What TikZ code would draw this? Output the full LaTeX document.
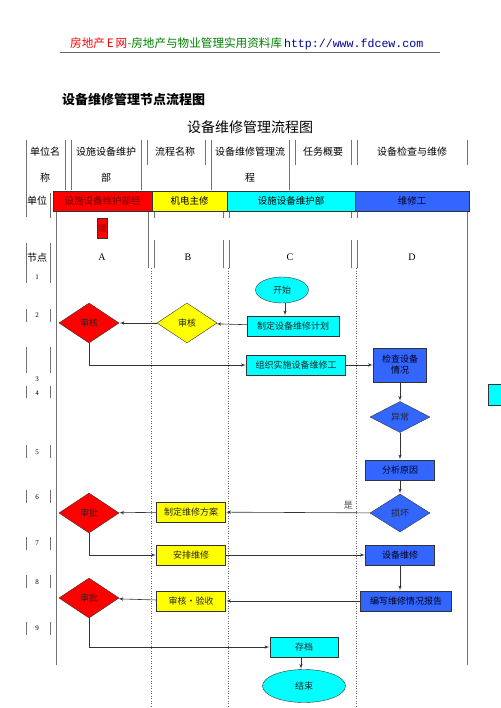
\documentclass[tikz,border=0pt]{standalone}
\usepackage{fontspec}
\setmainfont{Noto Sans CJK SC}
\newfontfamily\latinfont{Liberation Serif}
\newfontfamily\monofont{Liberation Mono}
\usepackage{tikz}
\usetikzlibrary{shapes}
\usetikzlibrary{arrows,positioning}
\definecolor{boxblue}{RGB}{51,102,255}
\definecolor{boxcyan}{RGB}{0,255,255}
\definecolor{boxyellow}{RGB}{255,255,0}
\definecolor{boxred}{RGB}{255,0,0}
\definecolor{webgreen}{RGB}{0,128,0}
\definecolor{webblue}{RGB}{0,0,160}

\begin{document}
\begin{tikzpicture}[x=1pt,y=-1pt,>=latex',thin]
  \tikzstyle{rule}=[draw=black!55,line width=0.7pt]
  \tikzstyle{lanesep}=[draw=black!60,dash pattern=on 1pt off 1.5pt]
  \tikzstyle{flow}=[->,draw=black!80,line width=0.6pt,shorten >=0.5pt]
  \tikzstyle{elbow}=[to path={|- (\tikztotarget)}]
  \tikzstyle{lane}=[draw=black!80,rectangle,inner sep=0pt,minimum height=20pt,
                    anchor=north west,font=\fontsize{9.5}{10}\selectfont]
  \tikzstyle{card}=[draw=black!80,rectangle,inner sep=0pt,minimum height=20pt,
                    text=black!85,font=\fontsize{9}{11}\selectfont,align=center]
  \tikzstyle{cbox}=[card,fill=boxcyan]
  \tikzstyle{ybox}=[card,fill=boxyellow,minimum width=69pt]
  \tikzstyle{bbox}=[card,fill=boxblue,text=black!90!blue]
  \tikzstyle{dia}=[diamond,draw=black!80,inner sep=0pt,minimum width=60pt,
                   minimum height=40pt,text=black!85,font=\fontsize{9}{10}\selectfont]
  \tikzstyle{rdia}=[dia,fill=boxred]
  \tikzstyle{ydia}=[dia,fill=boxyellow]
  \tikzstyle{bdia}=[dia,fill=boxblue]
  \tikzstyle{term}=[ellipse,draw=black!80,fill=boxcyan,inner sep=0pt,minimum width=53pt,
                    minimum height=26pt,text=black!85,font=\fontsize{9}{10}\selectfont]
  \tikzstyle{head}=[font=\fontsize{10}{10}\selectfont]
  \tikzstyle{num}=[font=\latinfont\fontsize{7}{7}\selectfont]
  \tikzstyle{col}=[font=\latinfont\fontsize{10}{10}\selectfont]

  \useasboundingbox (0,0) rectangle (500,708);

  % page header
  \node[anchor=west,inner sep=0pt,font=\fontsize{11.6}{12}\selectfont] (site) at (70,44)
    {\textcolor{boxred}{房地产\,E\,网}\textcolor{webgreen}{-房地产与物业管理实用资料库}\,\textcolor{webblue}{\monofont http://www.fdcew.com}};
  \draw[black!60,line width=0.6pt] (60,52) -- (440,52);
  \node[anchor=west,inner sep=0pt,font=\bfseries\fontsize{13}{13}\selectfont] (sub) at (62,100) {设备维修管理节点流程图};
  \node[font=\fontsize{14}{14}\selectfont] (title) at (250,127) {设备维修管理流程图};

  % table head
  \node[head] (h1) at (45,152) {单位名};
  \node[head] (h1b) at (45,178) {称};
  \node[head] (h2) at (106,152) {设施设备维护};
  \node[head] (h2b) at (106,178) {部};
  \node[head] (h3) at (175,152) {流程名称};
  \node[head] (h4) at (250,152) {设备维修管理流};
  \node[head] (h4b) at (250,178) {程};
  \node[head] (h5) at (323,152) {任务概要};
  \node[head] (h6) at (412,152) {设备检查与维修};
  \node[head] (unit) at (37,201) {单位};
  \node[head] (nd) at (37,258) {节点};

  \foreach \x/\a/\b in {26/140/217,65/140/190,71/140/190,141/140/190,147/140/165,
                        205/140/165,211/140/190,289/140/190,295/140/165,351/140/165,
                        357/140/165,467/140/165,50/193/218,
                        154/211/218,223/211/218,229/211/218,351/211/218,357/211/218,
                        148/211/268,154/240/268,223/240/268,229/240/268,351/240/268,
                        357/240/268,56/211/665,467/211/665}
    \draw[rule] (\x,\a) -- (\x,\b);

  % swim lanes
  \node[lane,fill=boxred,minimum width=99pt,text=red!40!black] (laneA) at (53,191) {设施设备维护部经};
  \node[lane,fill=boxyellow,minimum width=75pt] (laneB) at (152,191) {机电主修};
  \node[lane,fill=boxcyan,minimum width=128pt] (laneC) at (227,191) {设施设备维护部};
  \node[lane,fill=boxblue,minimum width=114pt,text=black!80!blue] (laneD) at (355,191) {维修工};
  \node[lane,fill=boxred,minimum width=10pt,minimum height=20pt,text=red!40!black,
        font=\fontsize{8}{8}\selectfont] (laneAx) at (97,218) {理};

  \node[col] (colA) at (102,257) {A};
  \node[col] (colB) at (188,257) {B};
  \node[col] (colC) at (290,257) {C};
  \node[col] (colD) at (412,257) {D};

  \foreach \x in {151,228,356}
    \draw[lanesep] (\x,268) -- (\x,708);

  % node numbers
  \foreach \n/\y/\a/\b in {1/277/243/283,2/315/309/322,3/379/347/373,4/393/386/398,
                           5/452/445/458,6/497/490/503,7/543/537/550,8/582/575/588,9/628/622/635}{
    \node[num] (n\n) at (37,\y) {\n};
    \draw[rule] (26,\a) -- (26,\b);
    \draw[rule] (50,\a) -- (50,\b);
  }

  % flow
  \node[term] (start) at (282,290) {开始};
  \node[cbox,minimum width=92pt] (plan) at (293,326) {制定设备维修计划};
  \node[ydia] (chk) at (187,323) {审核};
  \node[rdia] (mgrA) at (89,323) {审核};
  \node[cbox,minimum width=99pt] (org) at (296,365) {组织实施设备维修工};
  \node[bbox,minimum width=53pt,minimum height=34pt] (insp) at (400,365) {检查设备\\情况};
  \node[bdia,minimum height=31pt] (odd) at (400,417) {异常};
  \node[bbox,minimum width=69pt] (why) at (400,470) {分析原因};
  \node[bdia,minimum height=38pt] (broke) at (400,513) {损坏};
  \node[ybox] (scheme) at (191,512) {制定维修方案};
  \node[rdia] (mgrB) at (89,513) {审批};
  \node[ybox] (sched) at (191,555) {安排维修};
  \node[bbox,minimum width=69pt] (fix) at (400,555) {设备维修};
  \node[bbox,minimum width=91pt] (report) at (406,601) {编写维修情况报告};
  \node[ybox] (accept) at (191,601) {审核·验收};
  \node[rdia] (mgrC) at (89,598) {审批};
  \node[cbox,minimum width=68pt] (file) at (304,647) {存档};
  \node[term,minimum width=83pt,minimum height=33pt] (end) at (304,686) {结束};
  \node[cbox,minimum width=17pt,minimum height=21pt] (cut) at (496.5,394.5) {};

  \coordinate (startx) at (285,0);
  \coordinate (filex) at (301,0);
  \draw[flow] (start.south -| startx) -- (plan.north -| startx);
  \path (plan)   edge[flow] (chk)
        (chk)    edge[flow] (mgrA)
        (mgrA)   edge[flow,elbow] (org)
        (org)    edge[flow] (insp)
        (insp)   edge[flow] (odd)
        (odd)    edge[flow] (why)
        (why)    edge[flow] (broke)
        (broke)  edge[flow] node[pos=0.15,above,font=\fontsize{9}{9}\selectfont,text=black!70] {是} (scheme)
        (scheme) edge[flow] (mgrB)
        (mgrB)   edge[flow,elbow] (sched)
        (sched)  edge[flow] (fix)
        (report) edge[flow] (accept)
        (accept) edge[flow] (mgrC)
        (mgrC)   edge[flow,elbow] (file);
  \draw[flow] (fix) -- (fix |- report.north);
  \draw[flow] (file.south -| filex) -- (end.north -| filex);
\end{tikzpicture}
\end{document}
